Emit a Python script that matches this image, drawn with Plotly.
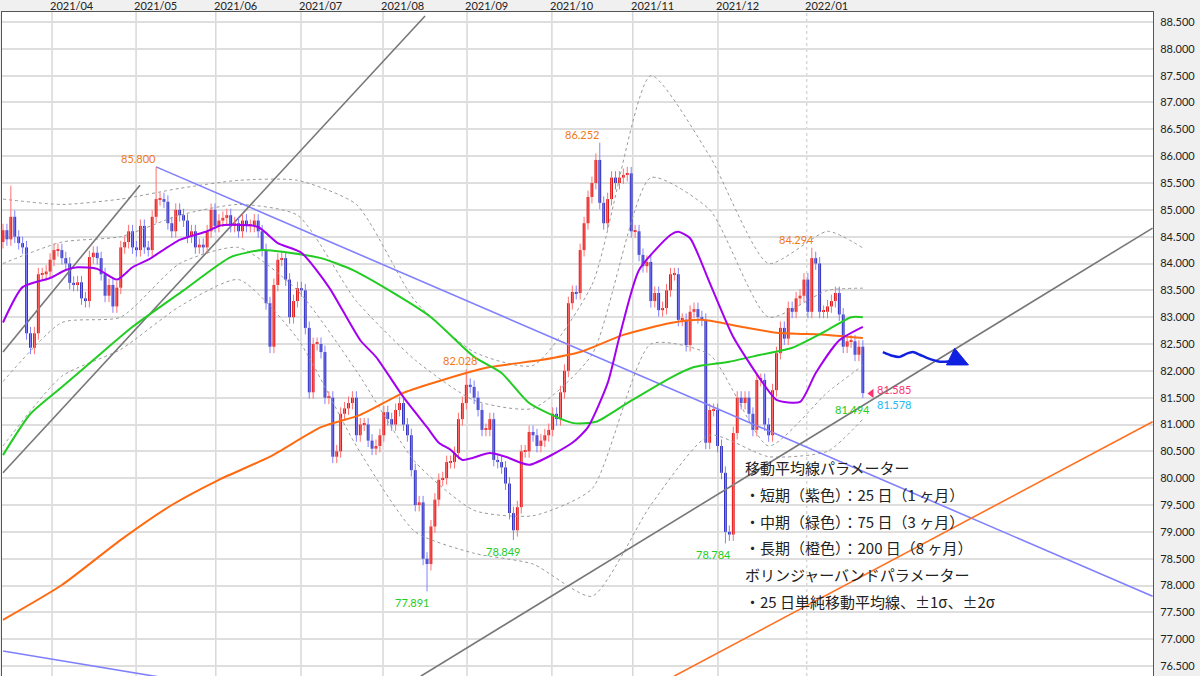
import plotly.graph_objects as go

# ---------------- data ----------------
closes = [
 84.62, 84.45, 84.87, 84.5, 84.38, 84.3, 82.7, 82.43, 82.7, 83.8, 83.8, 83.85, 84.07, 84.25, 84.25, 84.1, 84.0, 83.64, 83.6, 83.65,
 83.35, 83.3, 84.12, 84.2, 84.1, 83.8, 83.4, 83.6, 83.2, 83.55, 84.3, 84.4, 84.6, 84.3, 84.25, 84.7, 84.3, 84.25, 84.87, 85.2,
 85.2, 85.15, 84.75, 84.6, 85.0, 84.9, 84.8, 84.5, 84.6, 84.3, 84.35, 84.3, 84.6, 85.0, 84.7, 84.8, 84.85, 84.9, 84.7, 84.75,
 84.6, 84.8, 84.7, 84.7, 84.8, 84.6, 84.25, 83.26, 82.45, 83.6, 84.07, 84.1, 83.7, 83.0, 83.3, 83.54, 83.5, 82.8, 81.6, 82.5,
 82.5, 82.35, 81.5, 81.5, 80.4, 80.5, 81.2, 81.3, 81.4, 81.5, 80.8, 81.0, 81.0, 80.7, 80.55, 80.6, 80.8, 81.23, 81.1, 81.0,
 81.27, 81.4, 81.0, 80.8, 80.15, 79.5, 79.55, 78.5, 78.4, 79.1, 79.6,
 79.97, 80.0, 80.3, 80.3, 80.47, 81.1, 81.4, 81.74, 81.7, 81.5, 81.27, 80.9, 80.9, 81.1, 80.34, 80.3, 80.2, 79.9, 79.35, 79.03,
 79.46, 80.5, 80.5, 80.86, 80.8, 80.6, 80.7, 80.8, 80.9, 81.2, 81.1, 81.6, 82.0, 83.26, 83.47, 83.45, 84.25, 84.75, 85.24, 85.5,
 85.93, 85.13, 84.75, 85.2, 85.6, 85.5, 85.6, 85.65, 85.68, 84.6, 84.6, 84.16, 83.95, 84.03, 83.3, 83.45, 83.13,
 83.17, 83.5, 83.8, 83.8, 82.95, 82.95, 82.48, 83.1, 83.15, 83.0, 82.95, 80.66, 81.27, 81.27, 80.6, 80.1, 79.0, 78.95, 80.84, 81.5,
 81.4, 81.5, 81.2, 80.9, 81.83, 81.83, 81.0, 80.8, 81.64, 82.33, 82.8, 82.6, 83.17, 83.1, 83.35, 83.4, 83.7, 83.1, 84.1, 84.0,
 83.1, 83.1, 83.2, 83.3, 83.45, 83.05, 82.45, 82.55, 82.55, 82.3, 82.45, 81.585,
]
first_open = 84.4
wick = 0.12
high_overrides = {2: 85.45, 39: 85.8, 118: 82.028, 152: 86.252, 206: 84.294}
low_overrides = {108: 77.891, 130: 78.849, 184: 78.784, 219: 81.494}

month_pos = [12.5, 33.9, 54.2, 75.9, 96.8, 118.2, 139.8, 160.4, 182.1, 204.7]
month_lbl = ["2021/04", "2021/05", "2021/06", "2021/07", "2021/08", "2021/09",
             "2021/10", "2021/11", "2021/12", "2022/01"]

ma25_x = [0, 5, 12, 16, 19, 24, 29, 33, 37, 45, 52, 55, 58, 65, 70, 76, 83, 91, 95, 102, 108, 111, 114, 117, 124, 128, 134, 145, 149, 154, 157, 162, 170, 172, 175, 180, 186, 193, 197, 203, 207, 213, 219]
ma25_y = [82.9, 83.56, 83.73, 83.88, 83.93, 83.9, 83.7, 83.93, 84.07, 84.44, 84.6, 84.7, 84.72, 84.68, 84.38, 84.2, 83.56, 82.57, 82.26, 81.51, 80.95, 80.66, 80.53, 80.34, 80.47, 80.4, 80.25, 80.66, 80.95, 81.77, 82.63, 83.88, 84.53, 84.59, 84.47, 83.64, 82.63, 81.83, 81.46, 81.42, 81.96, 82.57, 82.82]
ma75_x = [0, 7, 15, 23, 33, 46, 58, 66, 72, 81, 89, 99, 109, 120, 127, 134, 145, 151, 159, 170, 176, 185, 193, 201, 210, 216, 219]
ma75_y = [80.43, 81.2, 81.7, 82.2, 82.82, 83.5, 84.12, 84.25, 84.21, 84.1, 83.88, 83.47, 83.0, 82.26, 81.96, 81.4, 81.03, 81.05, 81.4, 81.87, 82.07, 82.17, 82.3, 82.43, 82.76, 83.0, 83.0]
ma200_x = [0, 15, 30, 43, 55, 68, 81, 91, 102, 112, 124, 137, 147, 158, 170, 178, 188, 197, 210, 219]
ma200_y = [77.36, 78.01, 78.85, 79.5, 79.97, 80.4, 80.95, 81.18, 81.59, 81.83, 82.07, 82.2, 82.35, 82.67, 82.89, 82.95, 82.82, 82.71, 82.67, 82.61]

bb_x = [0, 15, 30, 45, 60, 75, 90, 105, 120, 135, 150, 165, 180, 195, 210, 219]
bb_up2 = [85.2, 85.1, 85.2, 85.4, 85.55, 85.55, 85.1, 83.3, 82.35, 82.1, 83.6, 87.5, 86.0, 84.0, 84.6, 84.29]
bb_up1 = [84.0, 84.4, 84.5, 84.9, 85.1, 84.9, 83.3, 82.2, 81.45, 81.3, 82.3, 85.6, 85.0, 83.0, 83.5, 83.54]
bb_dn1 = [81.8, 82.9, 83.0, 84.0, 84.3, 83.5, 82.0, 80.3, 79.4, 79.3, 79.8, 82.5, 82.3, 80.6, 81.6, 82.1]
bb_dn2 = [80.6, 81.9, 82.4, 83.2, 83.7, 82.6, 80.6, 79.0, 78.6, 78.4, 77.8, 79.5, 80.8, 80.4, 80.5, 81.1]

trend_lines = [
    ([39, 292.8], [85.8, 77.8], "#8080ff"),
    ([0, 60], [76.78, 76.05], "#8080ff"),
    ([0, 34.9], [82.35, 85.46], "#777777"),
    ([0, 107.5], [80.1, 88.61], "#777777"),
    ([106.4, 292.8], [76.31, 84.66], "#777777"),
    ([170.9, 292.8], [76.31, 81.05], "#ff7020"),
]

arrow_x = [224.1, 226.5, 228.4, 230.2, 231.7, 233.5, 235.3, 238.6, 241.5]
arrow_y = [82.35, 82.28, 82.26, 82.32, 82.35, 82.3, 82.24, 82.17, 82.18]
head_x = [240.3, 245.9, 242.4, 240.3]
head_y = [82.11, 82.11, 82.42, 82.11]

# ---------------- build ----------------
n = len(closes)
idx = list(range(n))
opens = [first_open] + closes[:-1]
highs = [high_overrides.get(i, max(o, c) + wick) for i, (o, c) in enumerate(zip(opens, closes))]
lows = [low_overrides.get(i, min(o, c) - wick) for i, (o, c) in enumerate(zip(opens, closes))]

fig = go.Figure()

def line(x, y, color, width=2, dash="solid", shape="spline", smooth=0.6):
    ln = dict(color=color, width=width, dash=dash, shape=shape)
    if shape == "spline":
        ln["smoothing"] = smooth
    fig.add_trace(go.Scatter(x=list(x), y=list(y), mode="lines", line=ln,
                             hoverinfo="skip", showlegend=False))

for band in (bb_up2, bb_up1, bb_dn1, bb_dn2):
    line(bb_x, band, "#9a9a9a", 1, "dot")

for xs, ys, col in trend_lines:
    line(xs, ys, col, 1.6, shape="linear")

for up, wcol, bcol in ((True, "#ff7070", "#e01010"), (False, "#8080ff", "#2b2bb8")):
    wx, wy, bx, bb, bh = [], [], [], [], []
    for i in idx:
        if (closes[i] >= opens[i]) == up:
            wx += [i, i, None]
            wy += [lows[i], highs[i], None]
            bx.append(i)
            bb.append(min(opens[i], closes[i]))
            bh.append(max(abs(closes[i] - opens[i]), 0.02))
    fig.add_trace(go.Scatter(x=wx, y=wy, mode="lines", line=dict(color=wcol, width=1),
                             hoverinfo="skip", showlegend=False))
    fig.add_trace(go.Bar(x=bx, y=bh, base=bb, width=0.72, marker=dict(color=bcol, line=dict(width=0)),
                         hoverinfo="skip", showlegend=False))

line(ma200_x, ma200_y, "#ff6a10", 2)
line(ma75_x, ma75_y, "#22cc22", 2)
line(ma25_x, ma25_y, "#a400f0", 2)

line(arrow_x, arrow_y, "#1020e0", 2.5)
fig.add_trace(go.Scatter(x=head_x, y=head_y, mode="lines", fill="toself", fillcolor="#1020e0",
                         line=dict(color="#1020e0", width=1), hoverinfo="skip", showlegend=False))

fig.add_trace(go.Scatter(x=[221.2], y=[81.58], mode="markers",
                         marker=dict(symbol="triangle-left", size=8, color="#ff3070"),
                         hoverinfo="skip", showlegend=False))

ann = []
def label(x, y, text, color, xanchor="center", yanchor="bottom", xs=0, ys=0):
    ann.append(dict(x=x, y=y, xref="x", yref="y", text=text, showarrow=False,
                    font=dict(size=11, color=color, family="Lato, sans-serif"),
                    xanchor=xanchor, yanchor=yanchor, xshift=xs, yshift=ys))

orange = "#f07a1a"; green = "#22cc22"
label(39, 85.8, "85.800", orange, "right", "bottom", 2, 0)
label(152, 86.252, "86.252", orange, "right", "bottom", 2, 0)
label(206, 84.294, "84.294", orange, "right", "bottom", 4, 0)
label(118, 82.028, "82.028", orange, "right", "bottom", 14, 0)
label(108, 77.891, "77.891", green, "center", "top", -15, -3)
label(130, 78.849, "78.849", green, "center", "top", -10, -3)
label(184, 78.784, "78.784", green, "center", "top", -12, -3)
label(219, 81.494, "81.494", green, "center", "top", -10, -3)
label(219, 81.58, "81.585", "#ff3070", "left", "bottom", 12, -5)
label(219, 81.58, "81.578", "#20b8f0", "left", "top", 12, -3)

for p, t in zip(month_pos, month_lbl):
    ann.append(dict(x=p, y=1, xref="x", yref="paper", text=t, showarrow=False,
                    xanchor="left", yanchor="bottom", xshift=-4, yshift=-2,
                    font=dict(size=11, color="#222", family="Lato, sans-serif")))

notes = ["移動平均線パラメーター",
         "・短期（紫色）：25 日（1 ヶ月）",
         "・中期（緑色）：75 日（3 ヶ月）",
         "・長期（橙色）：200 日（8 ヶ月）",
         "ボリンジャーバンドパラメーター",
         "・25 日単純移動平均線、±1σ、±2σ"]
for k, t in enumerate(notes):
    ann.append(dict(x=188.5, y=80.2 - k * 0.5, xref="x", yref="y", text=t, showarrow=False,
                    xanchor="left", yanchor="middle",
                    font=dict(size=15, color="#222", family="Noto Sans CJK JP")))

shapes = []
for p in month_pos:
    shapes.append(dict(type="line", xref="x", yref="paper", x0=p, x1=p, y0=0, y1=1,
                       line=dict(color="#d8d8d8", width=1.5,
                                 dash="dot" if p == month_pos[-1] else "solid"),
                       layer="below"))

fig.update_layout(
    width=1200, height=676,
    margin=dict(l=2, r=47, t=12, b=0, autoexpand=False),
    paper_bgcolor="#f0f0f0", plot_bgcolor="white",
    annotations=ann, shapes=shapes, showlegend=False, barmode="overlay",
    xaxis=dict(range=[-0.25, 292.9], showgrid=False, showticklabels=False, zeroline=False,
               rangeslider=dict(visible=False), showline=True, linecolor="#555", mirror=True),
    yaxis=dict(range=[76.314, 88.686], side="right", tick0=76.5, dtick=0.5, tickformat=".3f",
               gridcolor="#dedede", gridwidth=1.5, zeroline=False, showline=True,
               linecolor="#555", mirror=True, ticks="", ticklabelstandoff=4,
               tickfont=dict(size=11, color="#222", family="Lato, sans-serif")),
)

fig.write_html("out.html", config={"displayModeBar": False})
with open("out.html", encoding="utf-8") as f:
    html = f.read()
html = html.replace("<head>", "<head><style>html,body{margin:0;padding:0;overflow:hidden;}</style>", 1)
with open("out.html", "w", encoding="utf-8") as f:
    f.write(html)
